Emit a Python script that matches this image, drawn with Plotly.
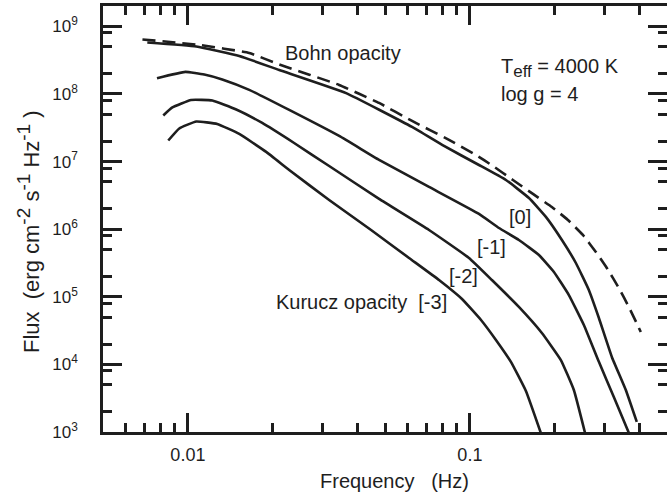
import numpy as np
import plotly.graph_objects as go

# ---------------- data ----------------
freq_bohn = [0.0069, 0.01097, 0.0165, 0.02108, 0.03439, 0.04764, 0.06236, 0.08431, 0.1051, 0.1207,
             0.1421, 0.1673, 0.1953, 0.2226, 0.2516, 0.2797, 0.3059, 0.3374, 0.3662, 0.4037]
flux_bohn = [6.40e8, 5.31e8, 4.04e8, 2.73e8, 1.36e8, 7.36e7, 3.99e7, 2.09e7, 1.25e7, 8.60e6,
             5.34e6, 3.32e6, 2.13e6, 1.37e6, 8.21e5, 4.60e5, 2.67e5, 1.35e5, 7.07e4, 3.02e4]

freq_m0 = [0.00718, 0.01071, 0.01521, 0.02108, 0.03639, 0.06236, 0.08094, 0.1077, 0.1342, 0.1620,
           0.1860, 0.2120, 0.2376, 0.2641, 0.2867, 0.3187, 0.3572, 0.3907]
flux_m0 = [5.78e8, 5.04e8, 3.65e8, 2.26e8, 1.03e8, 3.25e7, 1.70e7, 8.90e6, 5.34e6, 2.89e6,
           1.52e6, 6.92e5, 3.16e5, 1.26e5, 4.86e4, 1.29e4, 4.18e3, 1.41e3]

freq_m1 = [0.00777, 0.00979, 0.01143, 0.01324, 0.0165, 0.02287, 0.03439, 0.04764, 0.07162, 0.1077,
           0.1268, 0.1492, 0.1757, 0.1986, 0.2244, 0.2536, 0.2867, 0.3239, 0.3662]
flux_m1 = [1.71e8, 2.12e8, 1.94e8, 1.64e8, 1.15e8, 5.80e7, 2.39e7, 1.06e7, 4.21e6, 1.68e6,
           1.04e6, 6.92e5, 4.15e5, 2.33e5, 1.06e5, 3.83e4, 1.09e4, 3.29e3, 9.7e2]

freq_m2 = [0.00818, 0.00881, 0.01026, 0.01221, 0.01484, 0.01835, 0.02381, 0.03169, 0.04764, 0.07162,
           0.09927, 0.1197, 0.1492, 0.1800, 0.2102, 0.2337, 0.2562]
flux_m2 = [4.81e7, 6.31e7, 8.15e7, 8.01e7, 5.90e7, 3.72e7, 1.88e7, 8.60e6, 2.80e6, 9.73e5,
           3.75e5, 1.77e5, 7.07e4, 2.91e4, 1.16e4, 4.18e3, 9.6e2]

freq_m3 = [0.00852, 0.00932, 0.01071, 0.01271, 0.01521, 0.01895, 0.02287, 0.03169, 0.04463, 0.06085,
           0.07771, 0.09376, 0.1095, 0.1237, 0.1398, 0.1580, 0.1786]
flux_m3 = [2.05e7, 3.09e7, 3.92e7, 3.60e7, 2.56e7, 1.39e7, 7.51e6, 2.70e6, 9.73e5, 3.75e5,
           1.77e5, 9.28e4, 4.54e4, 2.30e4, 1.09e4, 4.04e3, 9.6e2]

x_tick_vals = [0.01, 0.1]
x_tick_text = ["0.01", "0.1"]
x_minor_vals = [0.006, 0.007, 0.008, 0.009, 0.02, 0.03, 0.04, 0.05, 0.06, 0.07, 0.08, 0.09, 0.2, 0.3, 0.4]
y_tick_vals = [1e3, 1e4, 1e5, 1e6, 1e7, 1e8, 1e9]
y_tick_text = ["10<sup>3</sup>", "10<sup>4</sup>", "10<sup>5</sup>", "10<sup>6</sup>",
               "10<sup>7</sup>", "10<sup>8</sup>", "10<sup>9</sup>"]
y_minor_vals = [m * 10 ** k for k in range(3, 9) for m in (2, 5, 8)]

x_range = [0.005, 0.5]
y_range = [1e3, 2e9]

# ---------------- style ----------------
INK = "#1e1e1e"
FONT = "Liberation Sans, Arial, Helvetica, sans-serif"
FS_XTICK = 18
FS_YTICK = 17
FS_TXT = 20
W, H = 667, 495
ML, MR, MT, MB = 103, 0, 6, 63
PW, PH = W - ML - MR, H - MT - MB


def px(xp):
    return (xp - ML) / PW


def py(yp):
    return (H - MB - yp) / PH


fig = go.Figure()
line_w = 2.6
SMOOTH = 0.35
fig.add_trace(go.Scatter(x=freq_bohn, y=flux_bohn, mode="lines",
                         line=dict(color=INK, width=line_w, dash="13px,7px",
                                   shape="spline", smoothing=SMOOTH), showlegend=False))
for fx, fy in [(freq_m0, flux_m0), (freq_m1, flux_m1), (freq_m2, flux_m2), (freq_m3, flux_m3)]:
    fig.add_trace(go.Scatter(x=fx, y=fy, mode="lines",
                             line=dict(color=INK, width=line_w, shape="spline", smoothing=SMOOTH),
                             showlegend=False))

# invisible trace on a right-hand axis to carry mirrored ticks without a spine
fig.add_trace(go.Scatter(x=[x_range[0]], y=[y_range[0]], yaxis="y2", mode="markers",
                         marker=dict(opacity=0), showlegend=False, hoverinfo="skip"))

tick_common = dict(ticks="inside", ticklen=19, tickwidth=2.6, tickcolor=INK,
                   showgrid=False, zeroline=False)
minor_common = dict(ticks="inside", ticklen=9, tickwidth=2.6, tickcolor=INK, showgrid=False)

fig.update_layout(
    width=W, height=H,
    margin=dict(l=ML, r=MR, t=MT, b=MB),
    paper_bgcolor="white", plot_bgcolor="white",
    font=dict(family=FONT, size=FS_TXT, color=INK),
    xaxis=dict(type="log", range=[np.log10(x_range[0]), np.log10(x_range[1])],
               tickmode="array", tickvals=x_tick_vals, ticktext=x_tick_text,
               minor=dict(tickmode="array", tickvals=x_minor_vals, **minor_common),
               showline=True, linewidth=2.6, linecolor=INK, mirror="ticks",
               ticklabelstandoff=5, tickfont=dict(size=FS_XTICK, color=INK, family=FONT),
               **tick_common),
    yaxis=dict(type="log", range=[np.log10(y_range[0]), np.log10(y_range[1])],
               tickmode="array", tickvals=y_tick_vals, ticktext=y_tick_text,
               minor=dict(tickmode="array", tickvals=y_minor_vals, **minor_common),
               showline=True, linewidth=2.6, linecolor=INK, mirror=False,
               ticklabelstandoff=19, tickfont=dict(size=FS_YTICK, color=INK, family=FONT),
               **tick_common),
    yaxis2=dict(type="log", range=[np.log10(y_range[0]), np.log10(y_range[1])],
                overlaying="y", side="right", anchor="x",
                tickmode="array", tickvals=y_tick_vals, showticklabels=False,
                minor=dict(tickmode="array", tickvals=y_minor_vals, **minor_common),
                showline=False, **tick_common),
)

ann = dict(showarrow=False, xref="paper", yref="paper",
           font=dict(family=FONT, size=FS_TXT, color=INK))
labels = [
    ("Bohn opacity", 283, 53, "left"),
    ('T<sub><span style="font-size:17px">eff</span></sub> = 4000 K', 499, 68, "left"),
    ("log g = 4", 499, 94, "left"),
    ("[0]", 507, 217, "left"),
    ("[-1]", 475, 247, "left"),
    ("[-2]", 447, 276, "left"),
    ("Kurucz opacity&nbsp;&nbsp;[-3]", 274, 302, "left"),
    ("Frequency&nbsp;&nbsp;&nbsp;(Hz)", 394, 481, "center"),
]
for text, xp, yp, anchor in labels:
    fig.add_annotation(text=text, x=px(xp), y=py(yp), xanchor=anchor, yanchor="middle", **ann)

sup = '<sup><span style="font-size:19px">{}</span></sup>'
ytitle = ("Flux&nbsp;&nbsp;(erg cm" + sup.format("-2") + "&nbsp;s" + sup.format("-1")
          + "&nbsp;Hz" + sup.format("-1") + "&nbsp;)")
fig.add_annotation(text=ytitle, x=px(28), y=py(232), xanchor="center", yanchor="middle",
                   textangle=-90, showarrow=False, xref="paper", yref="paper",
                   font=dict(family=FONT, size=22, color=INK))

fig.write_html("out.html", config={"displayModeBar": False},
               post_script="document.body.style.margin='0';document.body.style.overflow='hidden';")
